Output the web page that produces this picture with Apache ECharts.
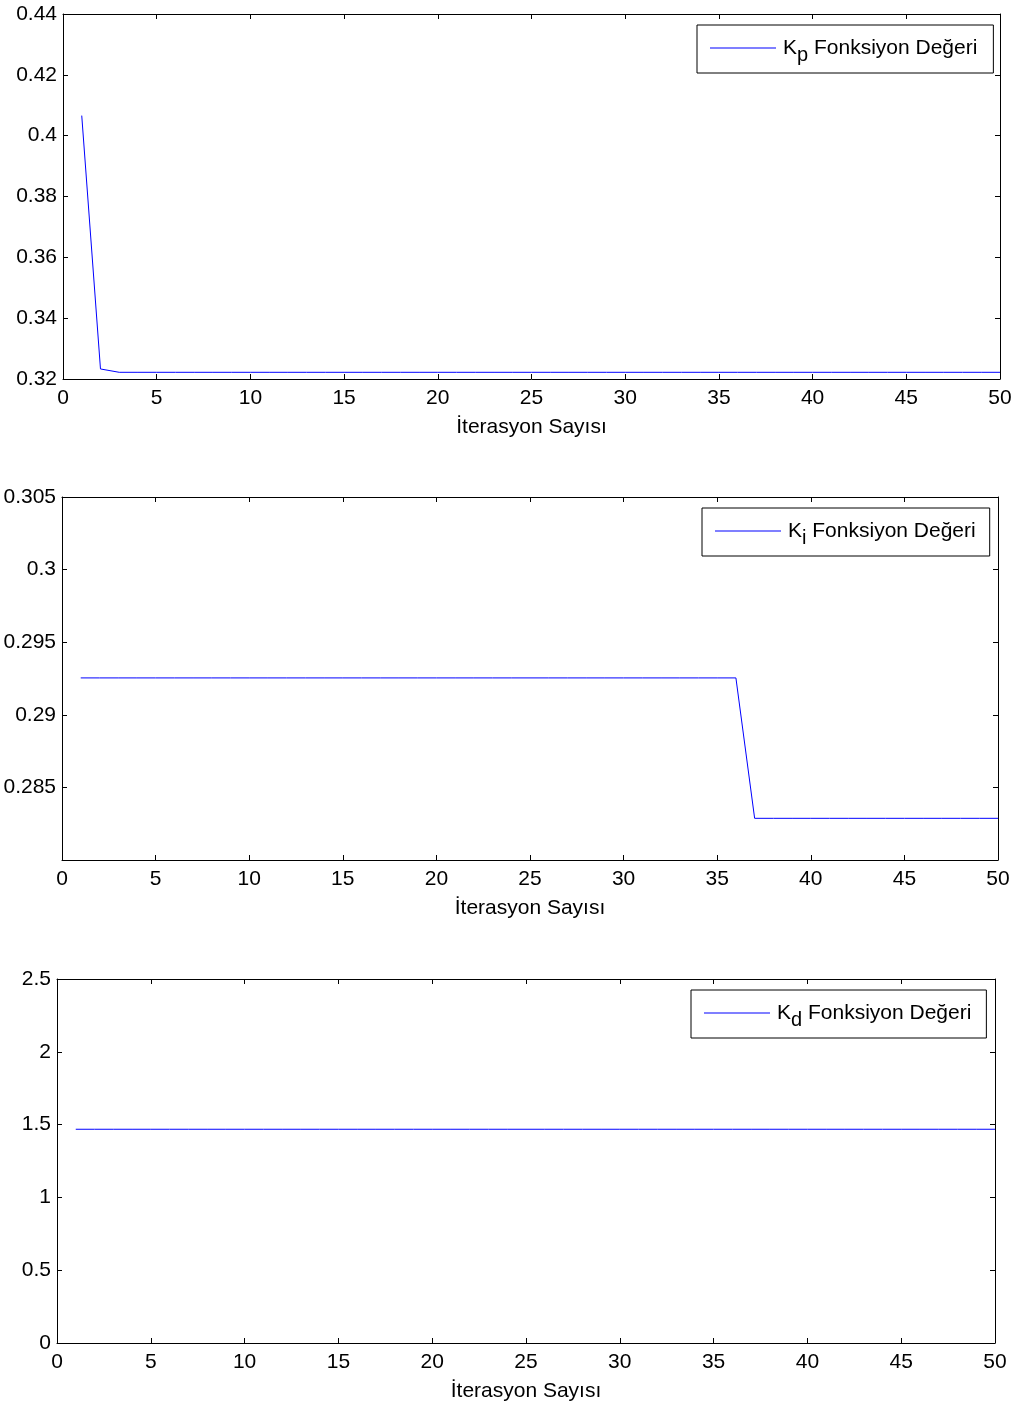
<!DOCTYPE html>
<html>
<head>
<meta charset="utf-8">
<script src="https://cdn.jsdelivr.net/npm/echarts@6/dist/echarts.min.js"></script>
<style>
html,body{margin:0;padding:0;background:#fff;}
#c{width:1015px;height:1407px;}
</style>
</head>
<body>
<div id="c"></div>
<script>
// ---- data ----
const iterations = [1,2,3,4,5,6,7,8,9,10,11,12,13,14,15,16,17,18,19,20,21,22,23,24,25,26,27,28,29,30,31,32,33,34,35,36,37,38,39,40,41,42,43,44,45,46,47,48,49,50];
const kpValues = [0.4066,0.3233,0.3222,0.3222,0.3222,0.3222,0.3222,0.3222,0.3222,0.3222,0.3222,0.3222,0.3222,0.3222,0.3222,0.3222,0.3222,0.3222,0.3222,0.3222,0.3222,0.3222,0.3222,0.3222,0.3222,0.3222,0.3222,0.3222,0.3222,0.3222,0.3222,0.3222,0.3222,0.3222,0.3222,0.3222,0.3222,0.3222,0.3222,0.3222,0.3222,0.3222,0.3222,0.3222,0.3222,0.3222,0.3222,0.3222,0.3222,0.3222];
const kiValues = [0.29254,0.29254,0.29254,0.29254,0.29254,0.29254,0.29254,0.29254,0.29254,0.29254,0.29254,0.29254,0.29254,0.29254,0.29254,0.29254,0.29254,0.29254,0.29254,0.29254,0.29254,0.29254,0.29254,0.29254,0.29254,0.29254,0.29254,0.29254,0.29254,0.29254,0.29254,0.29254,0.29254,0.29254,0.29254,0.29254,0.28287,0.28287,0.28287,0.28287,0.28287,0.28287,0.28287,0.28287,0.28287,0.28287,0.28287,0.28287,0.28287,0.28287];
const kdValues = [1.468,1.468,1.468,1.468,1.468,1.468,1.468,1.468,1.468,1.468,1.468,1.468,1.468,1.468,1.468,1.468,1.468,1.468,1.468,1.468,1.468,1.468,1.468,1.468,1.468,1.468,1.468,1.468,1.468,1.468,1.468,1.468,1.468,1.468,1.468,1.468,1.468,1.468,1.468,1.468,1.468,1.468,1.468,1.468,1.468,1.468,1.468,1.468,1.468,1.468];
const xAxisTitle = 'İterasyon Sayısı';
const legendMain = ' Fonksiyon Değeri';
const subscripts = ['p','i','d'];
const yRanges = [[0.32,0.44,0.02],[0.28,0.305,0.005],[0,2.5,0.5]];
const xRange = [0,50,5];

// ---- layout ----
const FONT = '"Liberation Sans", Arial, sans-serif';
const FS = 21;
const grids = [
  {left:63, top:14, width:937, height:365},
  {left:62, top:497, width:936, height:363},
  {left:57, top:979, width:938, height:364}
];
const legendPos = [
  {left:697, top:25, padRight:16},
  {left:702, top:508, padRight:14},
  {left:691, top:990, padRight:15}
];
const seriesData = [kpValues, kiValues, kdValues];

function fmt(v){ return String(+(+v).toFixed(4)); }

const option = {
  animation:false,
  backgroundColor:'#fff',
  grid: grids.map(g => Object.assign({containLabel:false}, g)),
  xAxis: [],
  yAxis: [],
  legend: [],
  series: []
};

const axisLine = {show:true, onZero:false, lineStyle:{color:'#000', width:1}};
const tickIn = {show:true, inside:true, length:5, lineStyle:{color:'#000', width:1}};

grids.forEach((g,i) => {
  option.xAxis.push({
    type:'value', gridIndex:i, position:'bottom',
    min:xRange[0], max:xRange[1], interval:xRange[2],
    axisLine:axisLine, axisTick:tickIn, splitLine:{show:false},
    axisLabel:{color:'#000', fontFamily:FONT, fontSize:FS, margin:9, formatter:fmt},
    name:xAxisTitle, nameLocation:'middle', nameGap:38,
    nameTextStyle:{color:'#000', fontFamily:FONT, fontSize:FS}
  });
  option.xAxis.push({
    type:'value', gridIndex:i, position:'top',
    min:xRange[0], max:xRange[1], interval:xRange[2],
    axisLine:axisLine, axisTick:tickIn, splitLine:{show:false},
    axisLabel:{show:false}
  });
  const yr = yRanges[i];
  option.yAxis.push({
    type:'value', gridIndex:i, position:'left',
    min:yr[0], max:yr[1], interval:yr[2],
    axisLine:axisLine, axisTick:tickIn, splitLine:{show:false},
    axisLabel:{color:'#000', fontFamily:FONT, fontSize:FS, margin:6,
      showMinLabel: i !== 1,
      formatter: v => (i===1 && Math.abs(v-0.28)<1e-9) ? '' : fmt(v)}
  });
  option.yAxis.push({
    type:'value', gridIndex:i, position:'right',
    min:yr[0], max:yr[1], interval:yr[2],
    axisLine:axisLine, axisTick:tickIn, splitLine:{show:false},
    axisLabel:{show:false}
  });
  const name = 'K' + subscripts[i];
  option.series.push({
    type:'line', name:name,
    xAxisIndex:i*2, yAxisIndex:i*2,
    data: iterations.map((x,k) => [x, seriesData[i][k]]),
    symbol:'none', lineStyle:{color:'#0000ff', width:1}, itemStyle:{color:'#0000ff'}
  });
  option.legend.push({
    data:[{name:name, icon:'rect'}],
    left:legendPos[i].left, top:legendPos[i].top,
    orient:'vertical',
    backgroundColor:'#fff',
    borderColor:'#000', borderWidth:1, borderRadius:0,
    padding:[6,legendPos[i].padRight,8,13],
    itemWidth:66, itemHeight:1, itemGap:0,
    itemStyle:{color:'#0000ff', borderWidth:0},
    selectedMode:false,
    formatter: () => '{a|K}{s|' + subscripts[i] + '}{a|' + legendMain + '}',
    textStyle:{
      color:'#000', fontFamily:FONT, fontSize:FS, padding:[0,0,0,2],
      rich:{
        a:{fontFamily:FONT, fontSize:FS, color:'#000', lineHeight:28, verticalAlign:'middle'},
        s:{fontFamily:FONT, fontSize:FS-1, color:'#000', lineHeight:28, padding:[14,0,0,0], verticalAlign:'middle'}
      }
    }
  });
});

const chart = echarts.init(document.getElementById('c'), null, {renderer:'canvas'});
chart.setOption(option);
</script>
</body>
</html>
